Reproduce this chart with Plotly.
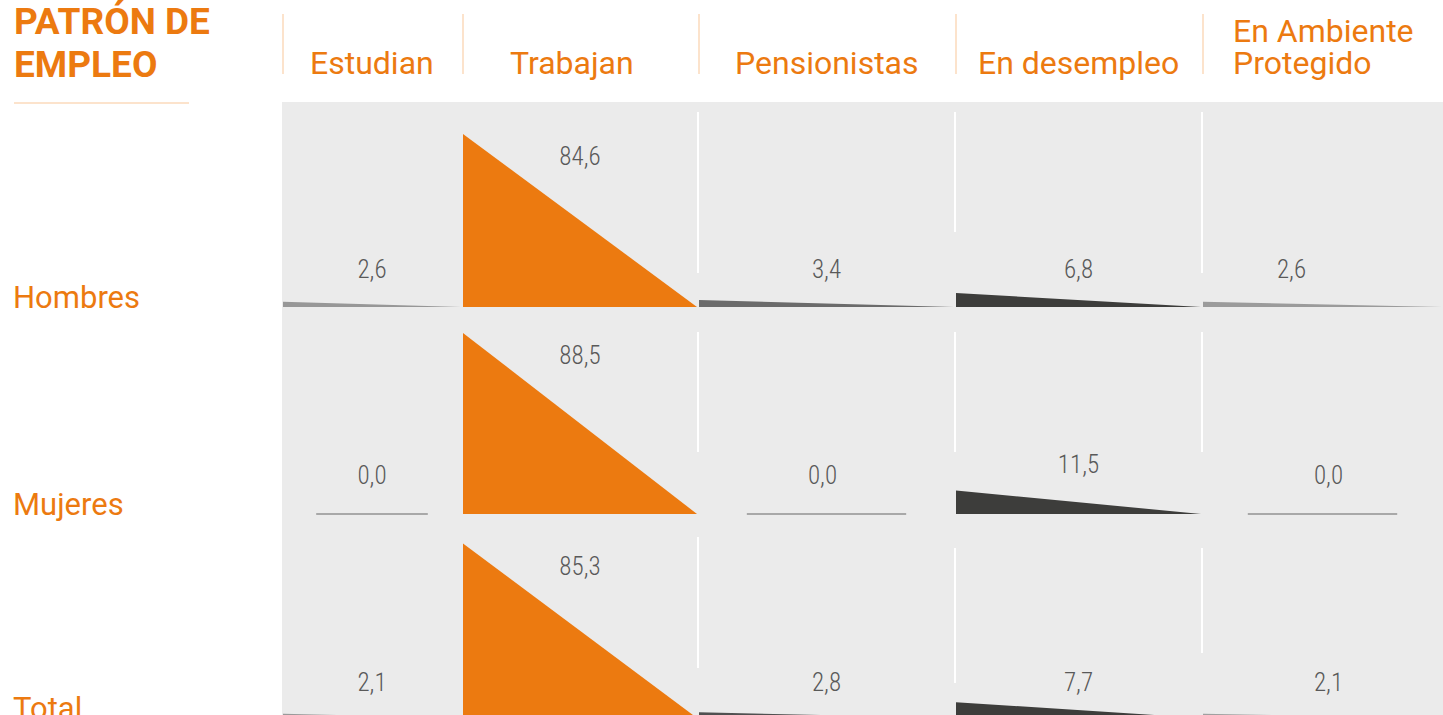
import plotly.graph_objects as go

# ---------------- data ----------------
categories = ["Estudian", "Trabajan", "Pensionistas", "En desempleo", "En Ambiente<br>Protegido"]
rows = ["Hombres", "Mujeres", "Total"]
hombres = [2.6, 84.6, 3.4, 6.8, 2.6]
mujeres = [0.0, 88.5, 0.0, 11.5, 0.0]
total = [2.1, 85.3, 2.8, 7.7, 2.1]
values = [hombres, mujeres, total]
title_lines = ["PATRÓN DE", "EMPLEO"]

# ---------------- styling / layout ----------------
W, H = 1443, 715
K = 2.045                      # pixels per percentage point
ORANGE = "#EC7A10"
PEACH = "#FCE3CC"
PANEL = "#EBEBEB"
LABEL_GREY = "#595959"
col_edges = [282, 462, 698, 955, 1202, 1443]
header_dx = [0, -8, 0, 0, 0]
row_base = [307, 514, 718]
label_gap = [35, 36, 33]
cell_colors = [
    ["#979797", ORANGE, "#6B6B6B", "#3D3D3B", "#9B9B9B"],
    ["#9A9A9A", ORANGE, "#6B6B6B", "#3D3D3B", "#9B9B9B"],
    ["#9A9A9A", ORANGE, "#505050", "#3D3D3B", "#A0A0A0"],
]
label_dx = [[0, 0, 0, 0, -31], [0, 0, -4, 0, 6], [0, 0, 0, 0, 6]]
white_lines = [  # (x, y0, y1) pixel spans of white separators inside the panel
    (698, 112, 273), (955, 112, 232), (1202, 112, 273),
    (698, 332, 452), (955, 332, 452), (1202, 332, 452),
    (698, 537, 668), (955, 548, 683), (1202, 548, 653),
]


def py(p):
    """pixel row -> y-axis value (value units)."""
    return -p / K


fig = go.Figure()
shapes = []

# grey panel
shapes.append(dict(type="rect", xref="x", yref="y", x0=col_edges[0], x1=W,
                   y0=py(102), y1=py(H + 5), fillcolor=PANEL, line_width=0, layer="below"))
# white separators
for x, a, b in white_lines:
    shapes.append(dict(type="line", xref="x", yref="y", x0=x, x1=x, y0=py(a), y1=py(b),
                       line=dict(color="white", width=2), layer="below"))
# header separators
for x in col_edges[:-1]:
    shapes.append(dict(type="line", xref="x", yref="y", x0=x + 1, x1=x + 1, y0=py(14), y1=py(74),
                       line=dict(color=PEACH, width=2)))
# title underline
shapes.append(dict(type="line", xref="x", yref="y", x0=14, x1=189, y0=py(103), y1=py(103),
                   line=dict(color=PEACH, width=2)))

lab_x, lab_y, lab_t = [], [], []
for r, rowvals in enumerate(values):
    base = py(row_base[r])
    for c, v in enumerate(rowvals):
        x0, x1 = col_edges[c], col_edges[c + 1]
        xc = (x0 + x1) / 2
        if v > 0:
            fig.add_trace(go.Scatter(
                x=[x0 + 1, x0 + 1, x1 - 1, x0 + 1],
                y=[base, base + v, base, base],
                mode="lines", fill="toself", fillcolor=cell_colors[r][c],
                line=dict(width=0), hoverinfo="skip", showlegend=False))
        else:
            half = (x1 - x0) * 0.31
            shapes.append(dict(type="line", xref="x", yref="y", x0=xc - half, x1=xc + half,
                               y0=base, y1=base, line=dict(color="#A8A8A8", width=2)))
        top_px = row_base[r] - v * K
        if v > 50:
            lp = top_px + 25
        elif v > 10:
            lp = top_px - 24
        else:
            lp = row_base[r] - label_gap[r]
        lab_x.append(xc + label_dx[r][c])
        lab_y.append(py(lp))
        lab_t.append(f"{v:.1f}".replace(".", ","))

fig.add_trace(go.Scatter(
    x=lab_x, y=lab_y, text=lab_t, mode="text",
    textfont=dict(family="Roboto Condensed, Liberation Sans Narrow, Roboto", size=25,
                  color=LABEL_GREY, weight=300),
    hoverinfo="skip", showlegend=False))

ann = []
# title
for i, t in enumerate(title_lines):
    ann.append(dict(x=12, y=py(21 + 43 * i), xref="x", yref="y", text=f"<b>{t}</b>",
                    showarrow=False, xanchor="left", yanchor="middle",
                    font=dict(family="Roboto", size=37, color=ORANGE)))
# column headers
for c, name in enumerate(categories):
    xc = (col_edges[c] + col_edges[c + 1]) / 2 + header_dx[c]
    lines = name.split("<br>")
    if len(lines) == 1:
        ann.append(dict(x=xc, y=py(63), xref="x", yref="y", text=name, showarrow=False,
                        xanchor="center", yanchor="middle",
                        font=dict(family="Roboto", size=32, color=ORANGE)))
    else:
        for i, ln in enumerate(lines):
            ann.append(dict(x=1231, y=py(31 + 32 * i), xref="x", yref="y", text=ln, showarrow=False,
                            xanchor="left", yanchor="middle",
                            font=dict(family="Roboto", size=32, color=ORANGE)))
# row labels
for r, name in enumerate(rows):
    ann.append(dict(x=11, y=py(row_base[r] - 10), xref="x", yref="y", text=name, showarrow=False,
                    xanchor="left", yanchor="middle",
                    font=dict(family="Roboto", size=31, color=ORANGE)))

fig.update_layout(
    width=W, height=H, autosize=False,
    margin=dict(l=0, r=0, t=0, b=0),
    paper_bgcolor="white", plot_bgcolor="white",
    xaxis=dict(range=[0, W], visible=False, fixedrange=True),
    yaxis=dict(range=[py(H), 0], visible=False, fixedrange=True),
    shapes=shapes, annotations=ann, showlegend=False,
)

fig.write_html("out.html", config={"displayModeBar": False},
               post_script="document.body.style.margin='0';")
